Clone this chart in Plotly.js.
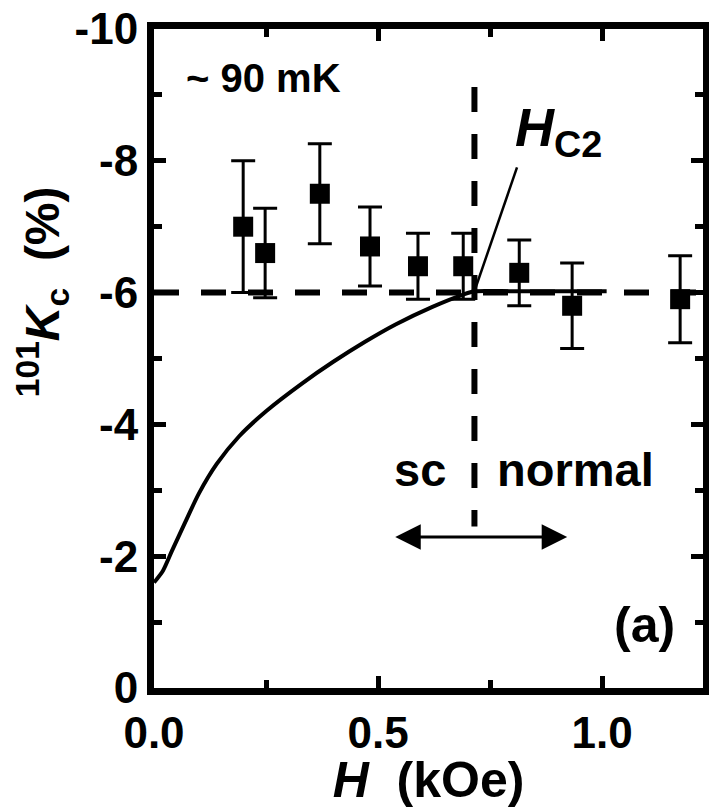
<!DOCTYPE html>
<html>
<head>
<meta charset="utf-8">
<script src="https://cdn.plot.ly/plotly-3.0.1.min.js"></script>
<style>
  html, body { margin: 0; padding: 0; background: #ffffff; }
  #chart { width: 709px; height: 808px; }
</style>
</head>
<body>
<div id="chart"></div>
<script>
// ---- data ----
const fieldH = [0.199, 0.248, 0.370, 0.482, 0.589, 0.690, 0.815, 0.933, 1.174];   // H (kOe)
const knightK = [-7.0, -6.6, -7.5, -6.7, -6.4, -6.4, -6.3, -5.8, -5.9];             // 101Kc (%)
const knightErr = [1.0, 0.68, 0.76, 0.6, 0.5, 0.5, 0.5, 0.65, 0.66];

const curveH = [0.0, 0.02, 0.04, 0.07, 0.10, 0.14, 0.19, 0.25, 0.33, 0.40, 0.47, 0.54, 0.62, 0.69, 0.715, 0.80, 0.90, 1.01];
const curveK = [-1.6, -1.78, -2.08, -2.52, -2.95, -3.4, -3.82, -4.2, -4.62, -4.95, -5.25, -5.52, -5.78, -5.97, -6.02, -6.02, -6.02, -6.02];

const hc2 = 0.715;            // upper critical field (kOe)
const kNormal = -6.0;         // normal-state Knight shift (%)
const hc2LineK = [-9.12, -2.45];
const pointerH = [0.715, 0.81];
const pointerK = [-6.02, -7.9];
const arrowH = [0.535, 0.922];
const arrowK = -2.29;

const xRange = [0, 1.225];
const yRange = [0, -10];
const xTickVals = [0, 0.5, 1.0];
const xTickText = ['0.0', '0.5', '1.0'];
const yTickVals = [0, -2, -4, -6, -8, -10];
const yTickText = ['0', '-2', '-4', '-6', '-8', '-10'];

const FONT = 'Liberation Sans, Arial, Helvetica, sans-serif';

const traces = [
  { // horizontal dashed normal-state level
    x: xRange, y: [kNormal, kNormal], mode: 'lines', hoverinfo: 'skip',
    line: { color: '#000', width: 6, dash: '25px,22px' }, showlegend: false
  },
  { // vertical dashed Hc2 line
    x: [hc2, hc2], y: hc2LineK, mode: 'lines', hoverinfo: 'skip',
    line: { color: '#000', width: 6, dash: '25px,22px' }, showlegend: false
  },
  { // theoretical curve
    x: curveH, y: curveK, mode: 'lines', line: { color: '#000', width: 4, shape: 'spline', smoothing: 0.7 },
    showlegend: false
  },
  { // pointer to Hc2 label
    x: pointerH, y: pointerK, mode: 'lines', line: { color: '#000', width: 2.5 }, showlegend: false, hoverinfo: 'skip'
  },
  { // data
    x: fieldH, y: knightK, mode: 'markers',
    marker: { symbol: 'square', size: 20, color: '#000' },
    error_y: { type: 'data', array: knightErr, visible: true, color: '#000', thickness: 3, width: 12 },
    showlegend: false
  }
];

const NB = '\u00a0';
const layout = {
  width: 709, height: 808,
  margin: { l: 154, r: 6, t: 29, b: 120 },
  paper_bgcolor: '#fff', plot_bgcolor: '#fff',
  font: { family: FONT, color: '#000' },
  showlegend: false,
  xaxis: {
    range: xRange, showgrid: false, zeroline: false,
    showline: true, linecolor: '#000', linewidth: 7, mirror: 'ticks',
    ticks: 'inside', ticklen: 12, tickwidth: 5, tickcolor: '#000',
    tickvals: xTickVals, ticktext: xTickText,
    tickfont: { family: FONT, size: 44, weight: 'bold', color: '#000' },
    minor: { ticks: 'inside', dtick: 0.25, tick0: 0, ticklen: 8, tickwidth: 5, tickcolor: '#000' },
    title: { text: '<i>H</i>' + NB + NB + '(kOe)', font: { family: FONT, size: 50, weight: 'bold', color: '#000' }, standoff: 0 }
  },
  yaxis: {
    range: yRange, showgrid: false, zeroline: false,
    showline: true, linecolor: '#000', linewidth: 7, mirror: 'ticks',
    ticks: 'inside', ticklen: 12, tickwidth: 5, tickcolor: '#000',
    tickvals: yTickVals, ticktext: yTickText,
    tickfont: { family: FONT, size: 44, weight: 'bold', color: '#000' },
    minor: { ticks: 'inside', dtick: 1, tick0: 0, ticklen: 8, tickwidth: 5, tickcolor: '#000' },
    title: { text: '\u200b' + NB.repeat(10) + '<sup>101</sup><i>K</i><sub>c</sub>' + NB + NB + '(%)', font: { family: FONT, size: 48, weight: 'bold', color: '#000' }, standoff: 2 }
  },
  annotations: [
    { x: 0.067, y: -9.26, xref: 'x', yref: 'y', xanchor: 'left', yanchor: 'middle', showarrow: false,
      text: '~ 90 mK', font: { family: FONT, size: 40, weight: 'bold', color: '#000' } },
    { x: 0.80, y: -8.45, xref: 'x', yref: 'y', xanchor: 'left', yanchor: 'middle', showarrow: false,
      text: '<i>H</i><sub>C2</sub>', font: { family: FONT, size: 54, weight: 'bold', color: '#000' } },
    { x: 0.594, y: -3.32, xref: 'x', yref: 'y', xanchor: 'center', yanchor: 'middle', showarrow: false,
      text: 'sc', font: { family: FONT, size: 47, weight: 'bold', color: '#000' } },
    { x: 0.94, y: -3.32, xref: 'x', yref: 'y', xanchor: 'center', yanchor: 'middle', showarrow: false,
      text: 'normal', font: { family: FONT, size: 47, weight: 'bold', color: '#000' } },
    { x: 1.095, y: -0.96, xref: 'x', yref: 'y', xanchor: 'center', yanchor: 'middle', showarrow: false,
      text: '(a)', font: { family: FONT, size: 50, weight: 'bold', color: '#000' } },
    { x: arrowH[1], y: arrowK, ax: arrowH[0], ay: arrowK, xref: 'x', yref: 'y', axref: 'x', ayref: 'y',
      text: '', showarrow: true, arrowhead: 2, startarrowhead: 2, arrowside: 'end+start',
      arrowsize: 1.7, startarrowsize: 1.7, arrowwidth: 3, arrowcolor: '#000' }
  ]
};

Plotly.newPlot('chart', traces, layout, { staticPlot: true, displayModeBar: false });
</script>
</body>
</html>
